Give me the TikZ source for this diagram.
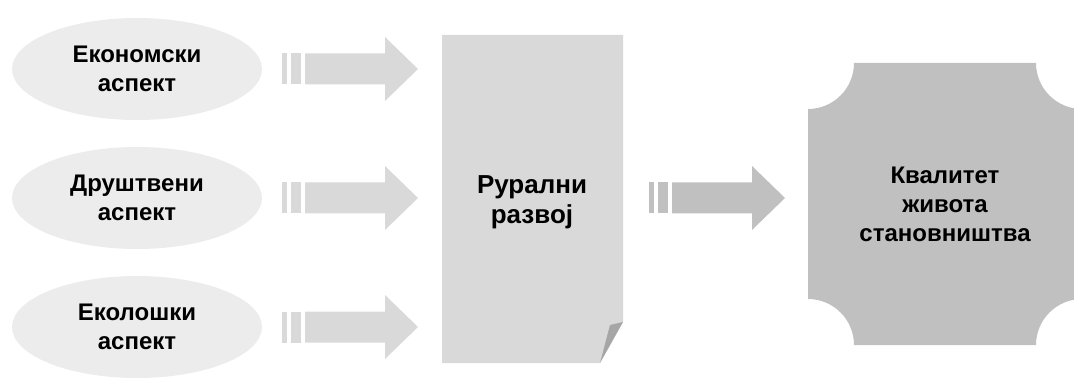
\documentclass[tikz,border=0pt]{standalone}
\usepackage{fontspec}
\setmainfont{Liberation Sans}
\usetikzlibrary{shapes.geometric}
\definecolor{ovalgray}{HTML}{ECECEC}
\definecolor{lightgray}{HTML}{D9D9D9}
\definecolor{midgray}{HTML}{C0C0C0}
\definecolor{foldgray}{HTML}{A6A6A6}
\tikzset{
  aspect/.style={ellipse,fill=ovalgray,minimum width=250pt,minimum height=102pt,
    align=center,font=\fontsize{24}{29}\selectfont\bfseries},
  label text/.style={align=center,font=\fontsize{24}{29}\selectfont\bfseries}
}
% striped block arrow: start x, y, colour
\newcommand{\striparrow}[3]{
  \fill[#3](#1,#2-15.5)rectangle(#1+5,#2+15.5);
  \fill[#3](#1+9,#2-15.5)rectangle(#1+19,#2+15.5);
  \fill[#3](#1+23,#2-15.5)--(#1+103,#2-15.5)--(#1+103,#2-32)--(#1+136,#2)
    --(#1+103,#2+32)--(#1+103,#2+15.5)--(#1+23,#2+15.5)--cycle;
}
\begin{document}
\begin{tikzpicture}[x=1pt,y=1pt]
\useasboundingbox (0,0) rectangle (1074,378);

% aspects
\node[aspect] (eco) at (137,309) {Економски\\аспект};
\node[aspect] (soc) at (137,180) {Друштвени\\аспект};
\node[aspect] (env) at (137,51) {Еколошки\\аспект};

\foreach \y in {309,180,51}
{
    \striparrow{282}{\y}{lightgray}
}

% page with folded corner
\fill[lightgray](442,15)--(600,15)--(623,56)--(623,343)--(442,343)--cycle;
\fill[foldgray](600,15)--(610,53)--(623,56)--cycle;
\node[label text,font=\fontsize{26}{30}\selectfont\bfseries] (rural) at (532,176) {Рурални\\развој};

\striparrow{649}{180}{midgray}

% plaque
\fill[midgray](808,33+46) arc(90:0:46) -- (1082-46,33) arc(180:90:46)
  -- (1082,315-46) arc(270:180:46) -- (808+46,315) arc(360:270:46) -- cycle;
\node[label text] (quality) at (945,174) {Квалитет\\живота\\становништва};
\end{tikzpicture}
\end{document}
